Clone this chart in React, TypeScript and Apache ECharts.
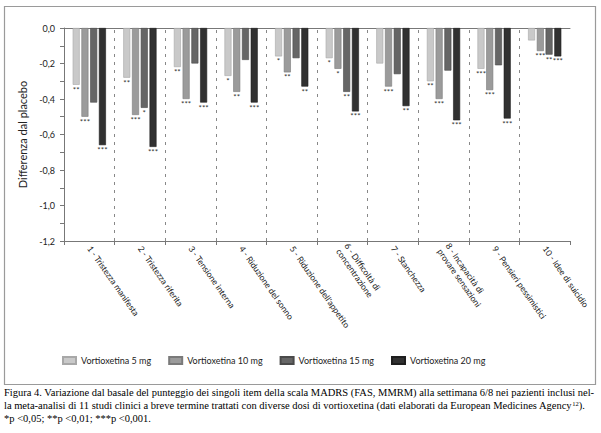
import React, { useEffect, useRef } from "react";
import * as echarts from "echarts";

const categories = [
  "1 - Tristezza manifesta",
  "2 - Tristezza riferita",
  "3 - Tensione interna",
  "4 - Riduzione del sonno",
  "5 - Riduzione dell'appetito",
  "6 - Difficoltà di\nconcentrazione",
  "7 - Stanchezza",
  "8 - Incapacità di\nprovare sensazioni",
  "9 - Pensieri pessimistici",
  "10 - Idee di suicidio",
];

const seriesNames = ["Vortioxetina 5 mg", "Vortioxetina 10 mg", "Vortioxetina 15 mg", "Vortioxetina 20 mg"];

const v5 = [-0.32, -0.28, -0.22, -0.27, -0.16, -0.17, -0.2, -0.3, -0.23, -0.07];
const v10 = [-0.5, -0.49, -0.4, -0.36, -0.25, -0.23, -0.33, -0.4, -0.35, -0.13];
const v15 = [-0.42, -0.45, -0.2, -0.18, -0.17, -0.36, -0.26, -0.24, -0.21, -0.15];
const v20 = [-0.66, -0.67, -0.42, -0.42, -0.33, -0.47, -0.44, -0.52, -0.51, -0.16];

const sig5 = ["**", "**", "**", "*", "*", "*", "", "**", "***", ""];
const sig10 = ["***", "***", "***", "**", "**", "*", "***", "***", "***", "***"];
const sig15 = ["", "*", "", "", "", "**", "", "", "", "**"];
const sig20 = ["***", "***", "***", "***", "**", "***", "**", "***", "***", "***"];

const yTicks = { min: -1.2, max: 0, interval: 0.2 };
const dividers = [1, 2, 3, 4, 5, 6, 7, 8, 9];

const captionLines = [
  "Figura 4. Variazione dal basale del punteggio dei singoli item della scala MADRS (FAS, MMRM) alla settimana 6/8 nei pazienti inclusi nel-",
  "la meta-analisi di 11 studi clinici a breve termine trattati con diverse dosi di vortioxetina (dati elaborati da European Medicines Agency{sup|12}).",
  "*p <0,05; **p <0,01; ***p <0,001.",
];

const colors = ["#c9c9c9", "#9b9b9b", "#666666", "#313131"];
const borders = ["#a8a8a8", "#7a7a7a", "#4a4a4a", "#1e1e1e"];

const FONT = "Lato";

export default function App() {
  const ref = useRef<HTMLDivElement>(null);
  useEffect(() => {
    if (!ref.current) return;
    const chart = echarts.init(ref.current, null, { renderer: "svg" });
    const values = [v5, v10, v15, v20];
    const sigs = [sig5, sig10, sig15, sig20];
    const barSeries = values.map((vals, si) => ({
      type: "bar",
      name: seriesNames[si],
      xAxisIndex: 0,
      yAxisIndex: 0,
      barWidth: 7,
      barGap: "25%",
      itemStyle: { color: colors[si], borderColor: borders[si], borderWidth: 0.6 },
      label: {
        show: true,
        position: "bottom",
        distance: 1,
        fontFamily: FONT,
        fontSize: 8,
        color: "#333",
        formatter: (p: any) => sigs[si][p.dataIndex],
      },
      data: vals,
    }));
    chart.setOption({
      animation: false,
      backgroundColor: "#ffffff",
      textStyle: { fontFamily: FONT },
      grid: { left: 64, right: 31, top: 28, bottom: 192, containLabel: false },
      legend: {
        data: seriesNames,
        left: 57,
        top: 351,
        itemWidth: 13,
        itemHeight: 7,
        itemGap: 17,
        icon: "rect",
        textStyle: { fontFamily: FONT, fontSize: 9, color: "#222" },
      },
      xAxis: [
        {
          type: "category",
          data: categories,
          position: "bottom",
          axisLine: { onZero: false, lineStyle: { color: "#777", width: 1 } },
          axisTick: { show: true, length: 4, lineStyle: { color: "#777" } },
          splitLine: { show: false },
          axisLabel: {
            rotate: -55,
            interval: 0,
            fontFamily: FONT,
            fontSize: 8.5,
            color: "#1a1a1a",
            margin: 6,
            lineHeight: 10,
          },
        },
        {
          type: "value",
          position: "top",
          min: 0,
          max: 10,
          axisLine: { show: true, onZero: false, lineStyle: { color: "#777", width: 1 } },
          axisTick: { show: false },
          axisLabel: { show: false },
          splitLine: { show: false },
        },
      ],
      yAxis: {
        type: "value",
        min: yTicks.min,
        max: yTicks.max,
        interval: yTicks.interval,
        name: "Differenza dal placebo",
        nameLocation: "middle",
        nameGap: 36,
        nameTextStyle: { fontFamily: FONT, fontSize: 11, color: "#222" },
        axisLine: { show: true, lineStyle: { color: "#777" } },
        axisTick: { show: true, length: 4, lineStyle: { color: "#777" } },
        minorTick: { show: true, splitNumber: 2, length: 4, lineStyle: { color: "#777" } },
        splitLine: { show: false },
        axisLabel: {
          fontFamily: FONT,
          fontSize: 9,
          color: "#222",
          margin: 9,
          formatter: (v: number) => (Math.abs(v) < 1e-9 ? "0,0" : v.toFixed(1).replace(".", ",")),
        },
      },
      series: [
        ...barSeries,
        {
          type: "line",
          xAxisIndex: 1,
          yAxisIndex: 0,
          data: [],
          silent: true,
          markLine: {
            silent: true,
            symbol: "none",
            label: { show: false },
            lineStyle: { color: "#888", type: [3, 5], width: 1 },
            data: dividers.map((d) => ({ xAxis: d })),
          },
        },
      ],
      graphic: [
        {
          type: "rect",
          shape: { x: 4.5, y: 6.5, width: 591, height: 378 },
          style: { fill: "none", stroke: "#9a9a9a", lineWidth: 1.2 },
          silent: true,
        },
        ...captionLines.map((t, i) => ({
          type: "text",
          left: 4,
          top: 386.5 + i * 13.2,
          style: {
            text: t,
            fontFamily: "Liberation Serif",
            fontSize: 10.5,
            fill: "#000",
            rich: {
              sup: { fontFamily: "Liberation Serif", fontSize: 6.5, verticalAlign: "top", padding: [0, 0, 4, 0] },
            },
          },
        })),
      ],
    });
    return () => chart.dispose();
  }, []);
  return (
    <div
      ref={ref}
      style={{ position: "absolute", left: 0, top: 0, width: 601, height: 433, background: "#fff" }}
    />
  );
}
